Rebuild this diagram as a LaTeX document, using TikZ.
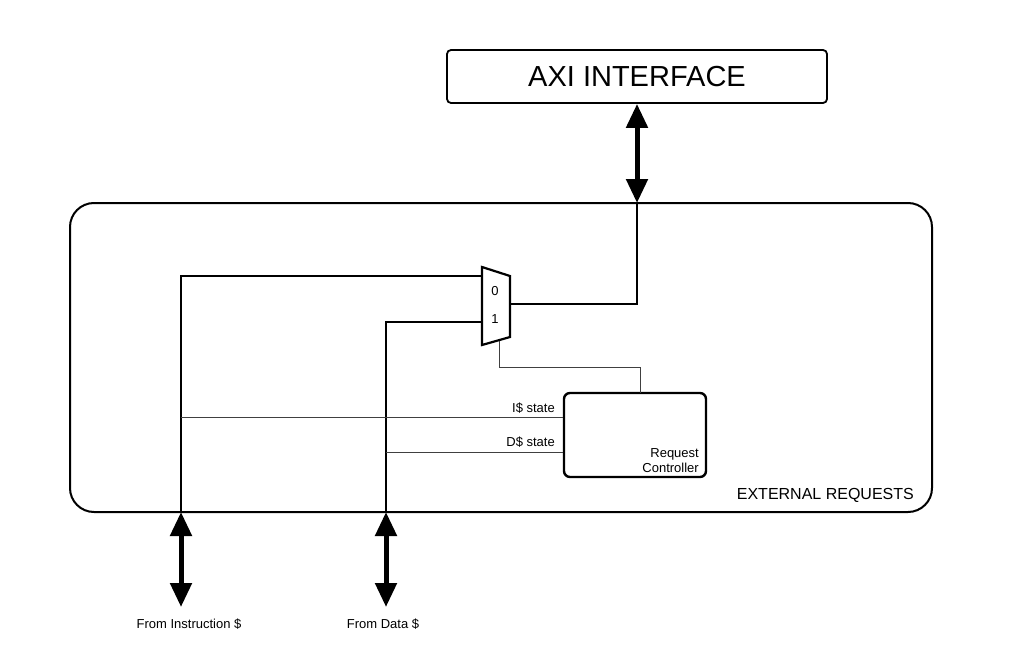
\documentclass[tikz,border=0pt]{standalone}
\usepackage{fontspec}
\setmainfont{Liberation Sans}
\usetikzlibrary{arrows.meta}
\begin{document}
\begin{tikzpicture}[x=1pt,y=-1pt,
  bus/.style={line width=2.6pt},
  thin wire/.style={line width=0.8pt, draw=black!75},
  bigarrow/.style={line width=5pt, {Triangle[width=21pt,length=24pt]}-{Triangle[width=21pt,length=24pt]}},
  lbl/.style={font=\fontsize{13}{15}\selectfont, inner sep=0pt}
]
\useasboundingbox (0,0) rectangle (1016,663);
% AXI interface
\node[draw, line width=1.8pt, rounded corners=4pt, minimum width=380pt, minimum height=53pt,
      font=\fontsize{29}{33}\selectfont] (axi) at (637,76.5) {AXI INTERFACE};
% External requests box
\node[draw, line width=2pt, rounded corners=24pt, minimum width=862pt, minimum height=309pt] (ext) at (501,357.5) {};
\node[font=\fontsize{16}{19}\selectfont, anchor=base east, inner sep=0pt] (extlbl) at (914,499) {EXTERNAL REQUESTS};
% Request controller
\node[draw, line width=2.4pt, rounded corners=6pt, minimum width=142pt, minimum height=84pt] (rc) at (635,435) {};
\node[lbl, align=right, anchor=south east] (rctxt) at (699,473) {Request\\Controller};
% Mux
\coordinate (m1) at (482,267);
\coordinate (m2) at (510,276);
\coordinate (m3) at (510,337);
\coordinate (m4) at (482,345);
\draw[line width=2.2pt, line join=miter] (m1) -- (m2) -- (m3) -- (m4) -- cycle;
\node[lbl] (in0) at (495,291) {0};
\node[lbl] (in1) at (495,319) {1};
\coordinate (mux0) at (482,276);
\coordinate (mux1) at (482,322);
\coordinate (muxout) at (510,304);
\coordinate (muxsel) at (499,341);
% ext box ports
\coordinate (axiport) at (637,203);
\coordinate (iport) at (181,512);
\coordinate (dport) at (386,512);
\coordinate (ibot) at (181,607);
\coordinate (dbot) at (386,607);
% Buses
\draw[bus] (iport) -- (iport |- mux0) -- (mux0);
\draw[bus] (dport) -- (dport |- mux1) -- (mux1);
\draw[bus] (muxout) -- (axiport |- muxout) -- (axiport);
% select line
\draw[thin wire] (muxsel) -- (499,367) -- (640,367) -- (640,393);
% state lines
\draw[thin wire] (181,417) -- (rc.west |- 0,417) coordinate (istate);
\draw[thin wire] (386,452) -- (rc.west |- 0,452) coordinate (dstate);
\node[lbl, anchor=base east] (ilbl) at (555,412) {I\$ state};
\node[lbl, anchor=base east] (dlbl) at (555,446) {D\$ state};
% big arrows
\draw[bigarrow] (axi.south) -- (axiport);
\draw[bigarrow] (iport) -- (ibot);
\draw[bigarrow] (dport) -- (dbot);
\node[lbl, anchor=base] (ilabel) at (189,628) {From Instruction \$};
\node[lbl, anchor=base] (dlabel) at (383,628) {From Data \$};
\end{tikzpicture}
\end{document}
